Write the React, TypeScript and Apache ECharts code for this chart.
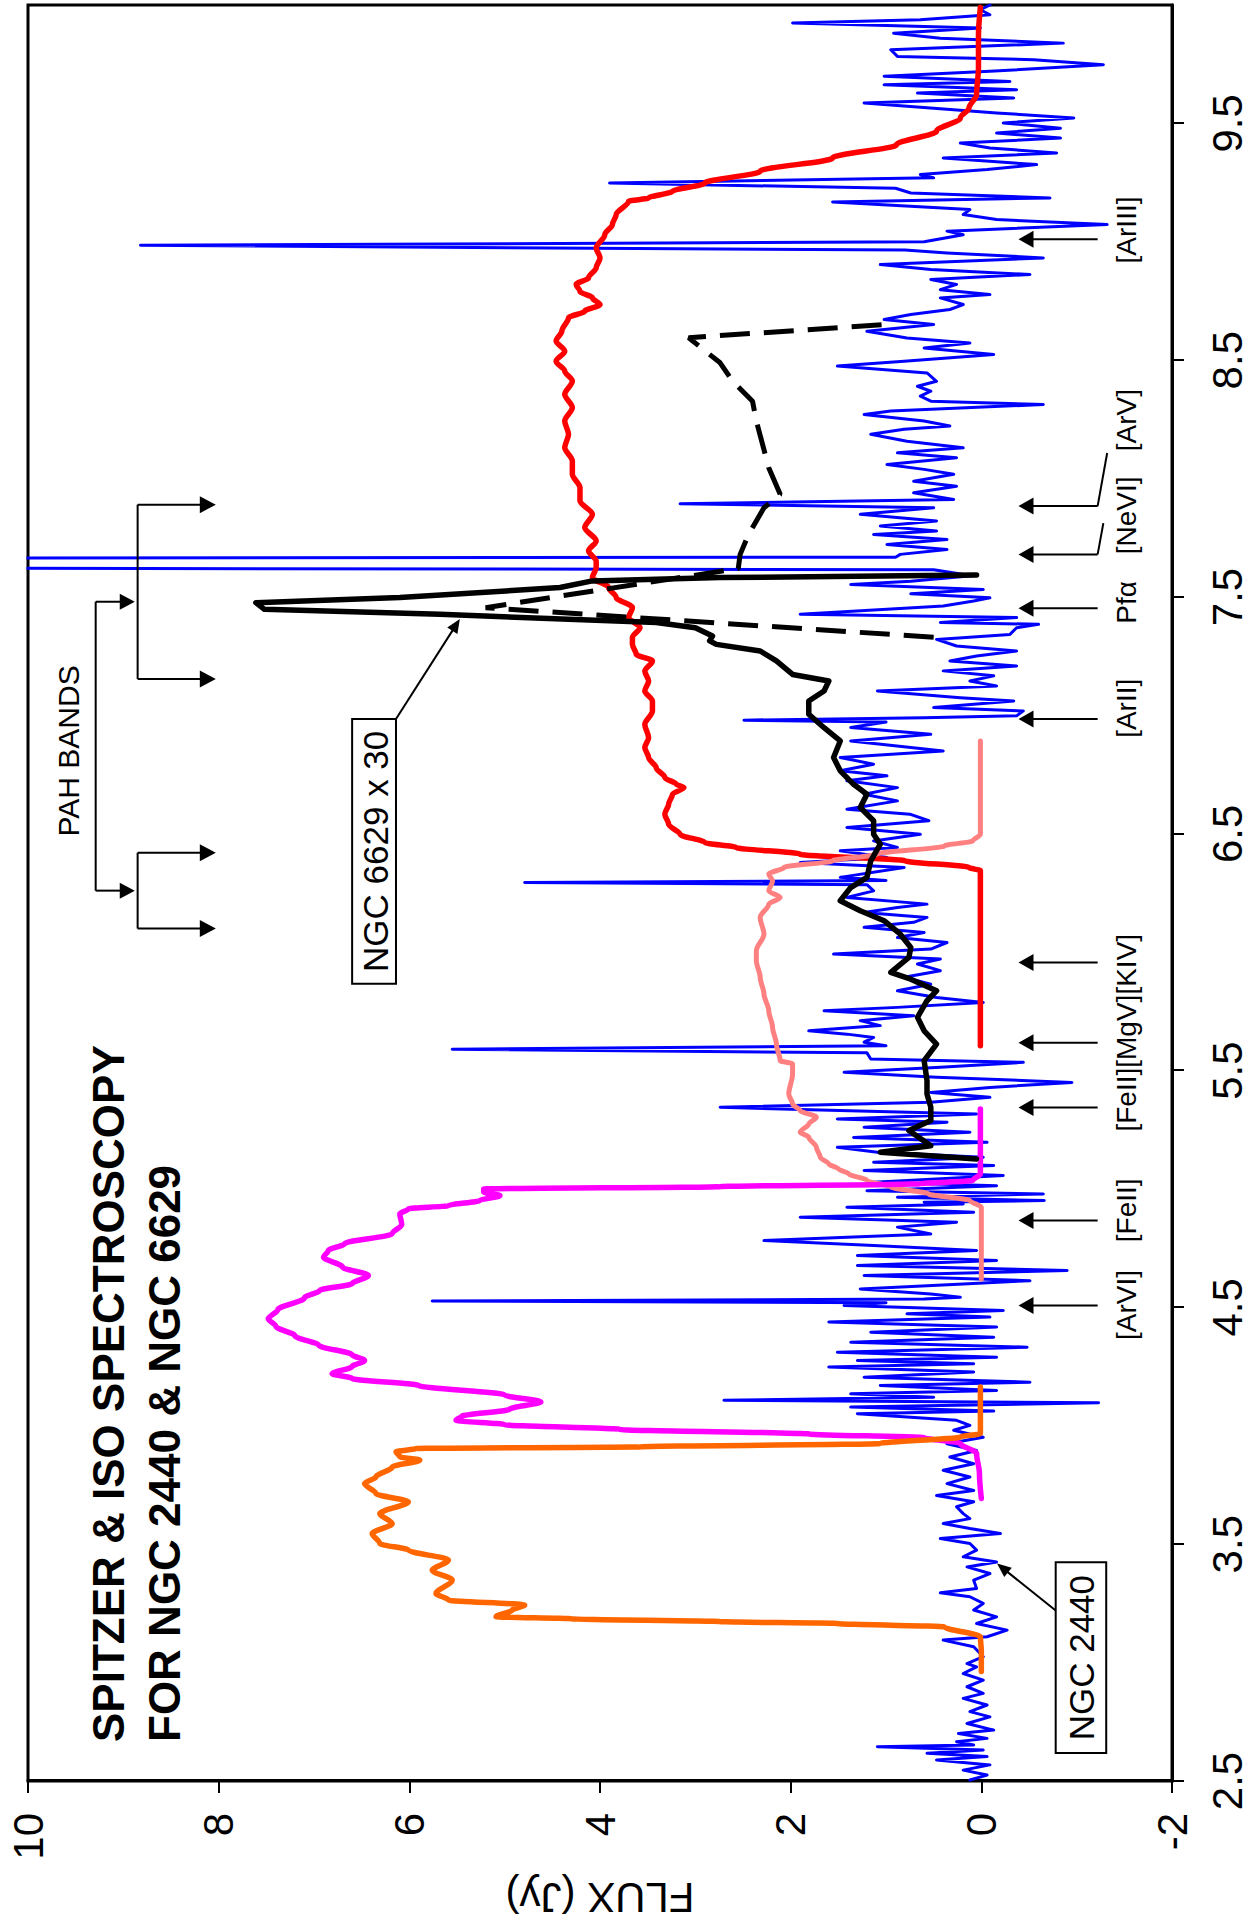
import React, { useEffect, useRef } from "react";
import * as echarts from "echarts";

type Pt = [number, number];

const FONT = "'Liberation Sans', Arial, Helvetica, sans-serif";

// wavelength (micron) tick labels
const waveTicks = [2.5, 3.5, 4.5, 5.5, 6.5, 7.5, 8.5, 9.5];

// NGC 2440 Spitzer spectrum (blue) [wavelength, flux Jy]
const ngc2440Spectrum: Pt[] = [
  [2.504, 0.12], [2.525, -0.06], [2.546, 0.19], [2.568, -0.09], [2.589, 0.47], [2.603, -0.06], [2.617, 0.57], [2.631, -0.02], [2.645, 1.09], [2.652, 0.08],
  [2.666, 0.26], [2.68, -0.06], [2.701, 0.24], [2.715, -0.13], [2.743, 0.15], [2.771, -0.09], [2.793, 0.12], [2.821, -0.06], [2.849, 0.19], [2.87, -0.02],
  [2.898, 0.15], [2.926, -0.02], [2.954, 0.19], [2.982, 0.05], [2.996, 0.15], [3.025, -0.02], [3.067, 0.08], [3.095, 0.4], [3.109, -0.06], [3.137, -0.27],
  [3.165, 0.05], [3.193, -0.16], [3.222, 0.08], [3.25, -0.02], [3.278, 0.12], [3.295, 0.43], [3.313, 0.05], [3.348, 0.08], [3.376, -0.09], [3.404, 0.15],
  [3.425, -0.16], [3.447, 0.19], [3.475, 0.05], [3.503, 0.12], [3.524, 0.43], [3.545, -0.2], [3.566, 0.12], [3.587, 0.4], [3.608, 0.12], [3.629, 0.19],
  [3.658, 0.26], [3.679, 0.08], [3.706, 0.47], [3.727, 0.08], [3.756, 0.36], [3.784, 0.12], [3.812, 0.4], [3.84, 0.08], [3.868, 0.33], [3.896, 0.05],
  [3.924, 0.36], [3.952, -0.02], [3.981, 0.29], [4.002, 0.12], [4.023, 0.26], [4.051, 1.3], [4.062, -0.13], [4.079, 1.37], [4.097, -1.23], [4.108, 2.7],
  [4.121, 0.5], [4.135, 1.37], [4.149, -0.16], [4.17, 1.06], [4.184, -0.51], [4.205, 1.23], [4.227, 0.08], [4.248, 1.6], [4.262, 0.08], [4.276, 1.3],
  [4.29, -0.16], [4.311, 1.51], [4.332, -0.48], [4.353, 1.37], [4.374, -0.13], [4.395, 1.16], [4.417, -0.16], [4.438, 1.6], [4.459, -0.09], [4.473, 0.78],
  [4.487, -0.23], [4.508, 1.44], [4.52, 1.0], [4.527, 5.76], [4.535, 0.6], [4.543, 0.22], [4.557, 0.53], [4.578, 1.27], [4.599, 0.19], [4.613, -0.51],
  [4.635, 1.23], [4.656, -0.9], [4.677, 1.3], [4.698, -0.16], [4.719, 1.3], [4.74, 0.05], [4.761, 1.13], [4.782, 2.28], [4.81, 0.53], [4.839, 0.88],
  [4.86, 0.26], [4.881, 1.9], [4.902, 0.08], [4.923, 1.41], [4.937, 0.19], [4.944, 0.6], [4.951, -0.66], [4.965, 0.88], [4.979, -0.65], [4.993, 1.2],
  [5.014, -0.16], [5.028, 1.13], [5.057, -0.23], [5.078, 1.23], [5.099, -0.13], [5.113, 1.13], [5.134, -0.02], [5.155, 1.09], [5.176, 1.51], [5.197, -0.06],
  [5.218, 1.34], [5.24, 0.12], [5.261, 1.23], [5.282, 0.36], [5.296, 1.51], [5.317, 0.05], [5.345, 2.74], [5.366, 0.53], [5.387, -0.09], [5.408, 0.53],
  [5.429, -0.09], [5.45, -0.95], [5.472, 0.47], [5.493, 1.44], [5.514, 0.43], [5.535, -0.44], [5.549, 1.16], [5.575, 1.2], [5.59, 5.55], [5.605, 1.0],
  [5.62, 1.23], [5.64, 1.13], [5.654, 1.41], [5.668, 1.81], [5.69, 1.06], [5.711, 1.27], [5.732, 0.71], [5.753, 1.65], [5.767, 0.88], [5.788, -0.02],
  [5.809, 0.47], [5.837, 0.88], [5.865, 0.53], [5.894, 0.81], [5.922, 0.43], [5.95, 0.67], [5.971, 0.43], [5.992, 1.55], [6.013, 0.53], [6.041, 0.36],
  [6.062, 0.88], [6.083, 0.6], [6.105, 1.23], [6.126, 0.71], [6.147, 0.57], [6.168, 1.23], [6.189, 0.88], [6.203, 0.57], [6.231, 1.41], [6.259, 1.13],
  [6.285, 1.2], [6.294, 4.79], [6.303, 1.0], [6.316, 1.48], [6.358, 0.81], [6.379, 1.9], [6.4, 0.99], [6.428, 1.48], [6.442, 0.88], [6.47, 1.13],
  [6.498, 0.64], [6.527, 1.41], [6.555, 0.55], [6.583, 0.75], [6.604, 1.41], [6.639, 0.88], [6.667, 1.23], [6.695, 0.88], [6.724, 1.41], [6.745, 0.99],
  [6.766, 1.48], [6.794, 1.13], [6.822, 1.48], [6.85, 0.4], [6.892, 1.37], [6.92, 0.53], [6.949, 1.37], [6.972, 1.0], [6.98, 2.49], [6.99, 0.6],
  [6.998, -0.37], [7.019, -0.44], [7.033, 0.5], [7.061, -0.34], [7.075, 0.22], [7.103, 1.09], [7.124, -0.16], [7.145, 0.12], [7.167, -0.13], [7.188, 0.4],
  [7.209, -0.37], [7.23, 0.33], [7.251, 0.05], [7.272, -0.37], [7.293, 0.26], [7.321, 0.47], [7.342, -0.3], [7.37, -0.37], [7.385, -0.6], [7.392, 0.43],
  [7.413, -0.37], [7.427, 1.9], [7.462, 0.4], [7.483, 0.08], [7.497, -0.09], [7.514, 0.74], [7.532, -0.02], [7.553, 1.37], [7.567, 0.74], [7.59, 0.1],
  [7.615, 0.5], [7.624, 14], [7.663, 14], [7.668, 0.9], [7.68, 0.85], [7.701, 0.36], [7.722, 0.99], [7.743, 0.36], [7.764, 1.13], [7.779, 0.47],
  [7.8, 1.06], [7.821, 0.47], [7.849, 1.27], [7.877, 0.5], [7.894, 3.16], [7.912, 0.29], [7.94, 0.71], [7.968, 0.26], [7.989, 0.71], [8.018, 0.29],
  [8.039, 0.6], [8.06, 0.99], [8.088, 0.26], [8.109, 0.88], [8.13, 0.19], [8.158, 0.78], [8.187, 1.16], [8.208, 0.81], [8.222, 0.33], [8.243, 0.6],
  [8.271, 1.23], [8.285, 0.95], [8.313, -0.65], [8.327, 0.53], [8.348, 0.64], [8.369, 0.53], [8.39, 0.67], [8.411, 0.47], [8.446, 0.57], [8.475, 1.51],
  [8.496, 0.81], [8.524, -0.13], [8.552, 0.6], [8.573, 0.12], [8.594, 0.78], [8.622, 1.2], [8.651, 0.5], [8.672, 1.02], [8.693, 0.74], [8.714, 0.33],
  [8.735, 0.19], [8.763, 0.43], [8.777, -0.09], [8.798, 0.43], [8.82, 0.26], [8.841, 0.53], [8.862, -0.51], [8.883, 0.53], [8.904, 1.06], [8.932, -0.65],
  [8.953, 0.36], [8.965, 0.8], [8.985, 8.82], [9.0, 0.6], [9.03, 0.19], [9.045, 0.36], [9.073, -1.32], [9.094, -0.16], [9.115, 0.19], [9.136, 0.12],
  [9.168, 1.56], [9.185, -0.72], [9.206, 0.74], [9.226, 0.9], [9.248, 3.9], [9.27, 0.5], [9.284, 0.64], [9.305, -0.06], [9.326, -0.58], [9.354, 0.4],
  [9.375, -0.79], [9.396, -0.09], [9.417, 0.22], [9.438, -0.83], [9.459, -0.16], [9.48, -0.83], [9.502, -0.23], [9.523, -0.97], [9.544, -0.16], [9.586, 1.23],
  [9.607, -0.34], [9.628, 0.67], [9.642, -0.37], [9.663, 1.02], [9.677, -0.3], [9.699, 1.02], [9.72, -0.09], [9.748, -1.28], [9.769, -0.55], [9.783, 0.88],
  [9.811, 0.95], [9.839, -0.86], [9.86, 0.43], [9.881, 0.92], [9.903, 0.01], [9.924, 1.98], [9.938, 0.64], [9.959, -0.09], [9.98, 0.01], [10.0, -0.09],
];

// IRAC band profiles (orange, magenta, salmon, red)
const irac36: Pt[] = [
  [2.962, 0.0], [3.05, 0.0], [3.109, 0.01], [3.151, 0.39], [3.165, 1.5], [3.173, 2.74], [3.185, 4.3], [3.194, 5.09], [3.222, 4.92], [3.243, 4.79],
  [3.264, 5.59], [3.292, 5.72], [3.348, 5.55], [3.39, 5.76], [3.433, 5.59], [3.475, 6.01], [3.503, 6.31], [3.545, 6.39], [3.587, 6.18], [3.629, 6.31],
  [3.679, 6.01], [3.714, 6.35], [3.756, 6.47], [3.784, 6.35], [3.826, 6.18], [3.855, 5.89], [3.869, 6.1], [3.89, 6.14], [3.904, 5.93], [3.911, 3.58],
  [3.925, 1.06], [3.953, 0.22], [3.967, 0.01], [4.164, 0.01],
];
const irac45: Pt[] = [
  [3.693, 0.0], [3.8, 0.02], [3.883, 0.05], [3.925, 0.22], [3.95, 0.6], [3.965, 1.8], [3.985, 3.8], [4.005, 5.0], [4.023, 5.51], [4.04, 5.45],
  [4.07, 4.95], [4.101, 4.62], [4.13, 5.0], [4.17, 5.9], [4.2, 6.6], [4.22, 6.81], [4.25, 6.6], [4.276, 6.47], [4.3, 6.6], [4.34, 6.95],
  [4.38, 7.2], [4.42, 7.4], [4.452, 7.48], [4.49, 7.38], [4.54, 7.1], [4.572, 6.94], [4.6, 6.6], [4.635, 6.43], [4.67, 6.7], [4.712, 6.9],
  [4.74, 6.85], [4.769, 6.68], [4.811, 6.18], [4.85, 6.08], [4.895, 6.1], [4.916, 6.01], [4.93, 5.59], [4.951, 5.26], [4.972, 5.05], [4.987, 5.22],
  [5.0, 5.22], [5.01, 2.74], [5.022, 0.64], [5.036, 0.09], [5.064, 0.01], [5.338, 0.01],
];
const irac58: Pt[] = [
  [4.62, 0.0], [4.923, 0.0], [4.951, 0.12], [4.979, 0.55], [5.008, 0.95], [5.036, 1.2], [5.064, 1.39], [5.085, 1.5], [5.106, 1.6], [5.134, 1.69],
  [5.176, 1.73], [5.219, 1.81], [5.24, 1.9], [5.275, 1.81], [5.303, 1.73], [5.331, 1.9], [5.359, 1.98], [5.401, 2.02], [5.486, 1.98], [5.528, 1.98],
  [5.542, 2.11], [5.612, 2.15], [5.683, 2.19], [5.753, 2.23], [5.823, 2.28], [5.894, 2.32], [5.964, 2.36], [6.006, 2.36], [6.076, 2.28], [6.147, 2.32],
  [6.203, 2.23], [6.231, 2.11], [6.259, 2.23], [6.301, 2.19], [6.33, 2.23], [6.358, 2.07], [6.386, 1.56], [6.414, 1.1], [6.449, 0.39], [6.47, 0.09],
  [6.498, 0.01], [6.892, 0.01],
];
const irac80: Pt[] = [
  [5.605, 0.01], [6.344, 0.01], [6.358, 0.13], [6.386, 0.8], [6.414, 1.9], [6.442, 2.57], [6.463, 2.9], [6.498, 3.16], [6.54, 3.28], [6.583, 3.32],
  [6.625, 3.28], [6.667, 3.24], [6.695, 3.12], [6.709, 3.2], [6.738, 3.32], [6.779, 3.41], [6.822, 3.49], [6.864, 3.53], [6.906, 3.49], [6.962, 3.53],
  [7.019, 3.45], [7.061, 3.45], [7.103, 3.53], [7.145, 3.49], [7.187, 3.53], [7.23, 3.45], [7.258, 3.62], [7.3, 3.66], [7.329, 3.66], [7.371, 3.58],
  [7.413, 3.7], [7.455, 3.66], [7.498, 3.83], [7.54, 3.91], [7.582, 4.08], [7.624, 4.04], [7.652, 4.04], [7.695, 4.12], [7.737, 4.04], [7.793, 4.16],
  [7.849, 4.08], [7.906, 4.21], [7.962, 4.21], [8.018, 4.29], [8.074, 4.29], [8.131, 4.37], [8.187, 4.33], [8.243, 4.37], [8.3, 4.29], [8.356, 4.37],
  [8.412, 4.29], [8.454, 4.37], [8.496, 4.46], [8.538, 4.37], [8.581, 4.46], [8.623, 4.4], [8.679, 4.33], [8.707, 4.16], [8.735, 4.0], [8.763, 4.08],
  [8.791, 4.21], [8.82, 4.25], [8.848, 4.12], [8.89, 4.04], [8.932, 4.0], [8.974, 4.04], [9.03, 3.95], [9.073, 3.87], [9.115, 3.83], [9.171, 3.7],
  [9.185, 3.49], [9.213, 3.24], [9.248, 2.9], [9.298, 2.32], [9.354, 1.56], [9.41, 0.89], [9.467, 0.47], [9.523, 0.22], [9.565, 0.13], [9.621, 0.05],
  [9.734, 0.03], [9.874, 0.03], [9.99, 0.01],
];

// NGC 6629 x 30 (black solid: Spitzer, black dashed: ISO)
const ngc6629Spitzer: Pt[] = [
  [5.127, 0.05], [5.155, 1.06], [5.183, 0.53], [5.247, 0.76], [5.289, 0.53], [5.345, 0.53], [5.401, 0.57], [5.458, 0.57], [5.542, 0.6], [5.612, 0.47],
  [5.668, 0.6], [5.725, 0.67], [5.795, 0.57], [5.837, 0.47], [5.886, 0.74], [5.915, 0.95], [5.978, 0.76], [6.02, 0.74], [6.076, 0.85], [6.133, 1.02],
  [6.175, 1.27], [6.217, 1.48], [6.273, 1.37], [6.316, 1.2], [6.386, 1.16], [6.456, 1.06], [6.498, 1.13], [6.555, 1.13], [6.611, 1.27], [6.667, 1.2],
  [6.709, 1.34], [6.766, 1.48], [6.822, 1.55], [6.892, 1.48], [6.948, 1.65], [7.005, 1.81], [7.061, 1.81], [7.103, 1.65], [7.145, 1.6], [7.173, 1.98],
  [7.23, 2.15], [7.272, 2.32], [7.3, 2.78], [7.315, 2.85], [7.335, 2.82], [7.37, 3.0], [7.392, 3.41], [7.427, 5.68], [7.448, 7.52], [7.476, 7.61],
  [7.498, 6.1], [7.54, 4.42], [7.568, 4.08], [7.582, 2.74], [7.593, 0.05],
];
const ngc6629Iso: Pt[] = [
  [7.33, 0.5], [7.455, 5.2], [7.62, 2.55], [7.68, 2.53], [7.765, 2.44], [7.877, 2.28], [7.934, 2.11], [8.046, 2.23], [8.243, 2.36], [8.327, 2.4],
  [8.412, 2.61], [8.489, 2.74], [8.595, 3.07], [8.651, 1.0],
];

// line identifications: arrow wavelength, label text and label wavelength
const idArrows = [4.508, 4.867, 5.344, 5.618, 5.956, 6.985, 7.453, 7.68, 7.884, 9.011];
const idLabels: { text: string; w: number }[] = [
  { text: "[ArVI]", w: 4.51 },
  { text: "[FeII]", w: 4.91 },
  { text: "[FeII][MgV][KIV]", w: 5.66 },
  { text: "[ArII]", w: 7.03 },
  { text: "Pf\u03b1", w: 7.477 },
  { text: "[NeVI]", w: 7.845 },
  { text: "[ArV]", w: 8.247 },
  { text: "[ArIII]", w: 9.05 },
];
const idLeaders: [number, number, number][] = [
  [7.68, 7.812, -1.28],
  [7.884, 8.108, -1.32],
];

function buildOption() {
  const lineSeries = (name: string, data: Pt[], color: string, width: number, extra: any = {}) => ({
    name,
    type: "line",
    data,
    showSymbol: false,
    symbol: "none",
    clip: true,
    silent: true,
    lineStyle: { color, width, cap: "round", join: "round" },
    ...extra,
  });
  return {
    animation: false,
    backgroundColor: "#ffffff",
    title: {
      text: "SPITZER & ISO SPECTROSCOPY\nFOR NGC 2440 & NGC 6629",
      left: 188,
      top: 80,
      padding: 0,
      textStyle: { fontSize: 44, fontWeight: "bold", fontFamily: FONT, color: "#000", lineHeight: 56 },
    },
    grid: { left: 149, right: 5, top: 28, bottom: 82, show: true, borderColor: "#000", borderWidth: 3, containLabel: false },
    xAxis: {
      type: "value",
      min: 2.5,
      max: 10,
      position: "bottom",
      axisLine: { onZero: false, lineStyle: { color: "#000", width: 3 } },
      axisTick: { show: true, inside: false, length: 12, customValues: waveTicks, lineStyle: { color: "#000", width: 2 } },
      axisLabel: { customValues: waveTicks, fontSize: 42, fontFamily: FONT, color: "#000", margin: 34 },
      splitLine: { show: false },
    },
    yAxis: {
      type: "value",
      min: -2,
      max: 10,
      interval: 2,
      name: "FLUX (Jy)",
      nameLocation: "middle",
      nameRotate: 90,
      nameGap: 95,
      nameTextStyle: { fontSize: 42, fontFamily: FONT, color: "#000" },
      axisLine: { show: true, onZero: false, lineStyle: { color: "#000", width: 3 } },
      axisTick: { show: true, inside: false, length: 12, lineStyle: { color: "#000", width: 2 } },
      axisLabel: { fontSize: 42, fontFamily: FONT, color: "#000", margin: 32 },
      splitLine: { show: false },
    },
    series: [
      lineSeries("NGC 2440", ngc2440Spectrum, "#0000ff", 3),
      lineSeries("IRAC 8.0", irac80, "#ff0000", 5.5, { smooth: 0.3, smoothMonotone: "x" }),
      lineSeries("IRAC 5.8", irac58, "#ff8080", 5, { smooth: 0.3, smoothMonotone: "x" }),
      lineSeries("IRAC 4.5", irac45, "#ff00ff", 5.5, { smooth: 0.3, smoothMonotone: "x" }),
      lineSeries("IRAC 3.6", irac36, "#ff6600", 5.5, { smooth: 0.3, smoothMonotone: "x" }),
      lineSeries("NGC 6629 Spitzer", ngc6629Spitzer, "#000000", 5.5),
      lineSeries("NGC 6629 ISO", ngc6629Iso, "#000000", 5, { lineStyle: { color: "#000", width: 5, type: [30, 14], cap: "butt" } }),
    ],
  };
}

function buildGraphics(P: (w: number, f: number) => number[]) {
  const g: any[] = [];
  const seg = (a: number[], b: number[], lw = 2) =>
    g.push({ type: "line", z: 50, silent: true, shape: { x1: a[0], y1: a[1], x2: b[0], y2: b[1] }, style: { stroke: "#000", lineWidth: lw } });
  const arrow = (a: number[], b: number[], head = 15, width = 16, lw = 2) => {
    const dx = b[0] - a[0];
    const dy = b[1] - a[1];
    const len = Math.hypot(dx, dy) || 1;
    const ux = dx / len;
    const uy = dy / len;
    const bx = b[0] - ux * head;
    const by = b[1] - uy * head;
    const px = (-uy * width) / 2;
    const py = (ux * width) / 2;
    seg(a, [bx + ux * 2, by + uy * 2], lw);
    g.push({
      type: "polygon",
      z: 51,
      silent: true,
      shape: { points: [[b[0], b[1]], [bx + px, by + py], [bx - px, by - py]] },
      style: { fill: "#000" },
    });
  };
  const text = (p: number[], s: string, size: number, extra: any = {}) =>
    g.push({
      type: "text",
      z: 60,
      silent: true,
      x: p[0],
      y: p[1],
      style: { text: s, fontSize: size, fontFamily: FONT, fill: "#000", align: "center", verticalAlign: "middle", ...extra },
    });

  // PAH bands bracket
  seg(P(6.26, 9.29), P(7.48, 9.29), 2);
  arrow(P(6.26, 9.29), P(6.26, 8.88), 15, 16);
  arrow(P(7.48, 9.29), P(7.48, 8.88), 15, 16);
  seg(P(7.154, 8.85), P(7.89, 8.85), 2);
  arrow(P(7.154, 8.85), P(7.154, 8.03), 16, 17);
  arrow(P(7.89, 8.85), P(7.89, 8.03), 16, 17);
  seg(P(6.1, 8.85), P(6.42, 8.85), 2);
  arrow(P(6.1, 8.85), P(6.1, 8.03), 16, 17);
  arrow(P(6.42, 8.85), P(6.42, 8.03), 16, 17);
  text(P(6.85, 9.58), "PAH BANDS", 30);

  // line identification arrows
  idArrows.forEach((w) => arrow(P(w, -1.22), P(w, -0.39), 15, 17));
  idLeaders.forEach(([w0, w1, f1]) => seg(P(w0, -1.22), P(w1, f1), 2));
  idLabels.forEach((l) => text(P(l.w, -1.52), l.text, 28));

  // NGC 6629 x 30 label box
  {
    const tl = P(5.867, 6.6);
    const br = P(6.985, 6.14);
    g.push({ type: "rect", z: 55, silent: true, shape: { x: tl[0], y: tl[1], width: br[0] - tl[0], height: br[1] - tl[1] }, style: { fill: "#fff", stroke: "#000", lineWidth: 2 } });
    text([(tl[0] + br[0]) / 2, (tl[1] + br[1]) / 2 + 1], "NGC 6629 x 30", 35);
    arrow(P(6.985, 6.14), P(7.407, 5.47), 14, 12, 2);
  }
  // NGC 2440 label box
  {
    const tl = P(2.618, -0.78);
    const br = P(3.424, -1.31);
    g.push({ type: "rect", z: 55, silent: true, shape: { x: tl[0], y: tl[1], width: br[0] - tl[0], height: br[1] - tl[1] }, style: { fill: "#fff", stroke: "#000", lineWidth: 2 } });
    text([(tl[0] + br[0]) / 2, (tl[1] + br[1]) / 2 + 1], "NGC 2440", 35);
    arrow(P(3.22, -0.78), P(3.418, -0.165), 14, 12, 2);
  }
  return g;
}

export default function App() {
  const ref = useRef<HTMLDivElement>(null);
  useEffect(() => {
    const el = ref.current;
    if (!el) return;
    const chart = echarts.init(el, null, { renderer: "svg" });
    chart.setOption(buildOption() as any);
    const P = (w: number, f: number) => chart.convertToPixel({ gridIndex: 0 } as any, [w, f]) as number[];
    chart.setOption({ graphic: buildGraphics(P) } as any);
    return () => chart.dispose();
  }, []);
  return (
    <div style={{ position: "fixed", left: 0, top: 0, width: 1254, height: 1930, overflow: "hidden", background: "#fff" }}>
      <div
        ref={ref}
        style={{
          position: "absolute",
          left: 0,
          top: 0,
          width: 1930,
          height: 1254,
          transformOrigin: "0 0",
          transform: "translate(0px, 1930px) rotate(-90deg)",
        }}
      />
    </div>
  );
}
